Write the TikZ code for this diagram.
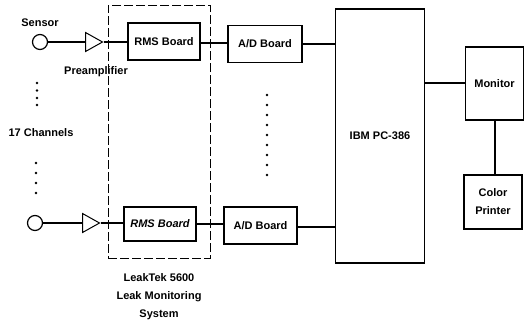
\documentclass[tikz,border=0pt]{standalone}
\usepackage{fontspec}
\setmainfont{Liberation Sans}
\usetikzlibrary{positioning,shapes.geometric}

\begin{document}
\begin{tikzpicture}[x=1pt, y=-1pt,
  font=\fontsize{11}{18}\selectfont\bfseries,
  board/.style={draw, line width=1.3pt, minimum width=72pt, minimum height=37pt, inner sep=0pt},
  sensor/.style={draw, circle, line width=1.2pt, minimum size=15pt, inner sep=0pt},
  amp/.style={draw, isosceles triangle, isosceles triangle stretches, line width=1pt, minimum width=19pt, minimum height=17pt, inner sep=0pt, anchor=west},
  wire/.style={line width=1.3pt},
  dotmark/.style={circle, fill, inner sep=0pt, minimum size=2.6pt}
]
\useasboundingbox (0,0) rectangle (524,327);

% enclosure of the LeakTek boards
\node[draw, dash pattern=on 9pt off 3pt, line width=0.9pt, minimum width=102pt, minimum height=253pt, inner sep=0pt] (leak) at (159,131.5) {};
\node[align=center, below=12pt of leak] (leaklbl) {LeakTek 5600\\Leak Monitoring\\System};

% first channel
\node[sensor] (s1) at (40,42) {};
\node[amp] (a1) at (85,42) {};
\node[board] (rms1) at (164,41.5) {RMS Board};
\node[board, minimum width=74pt] (ad1) at (265,44) {A/D Board};
\node[above=4pt of s1] (senslbl) {Sensor};
\node (prelbl) at (96,72) {Preamplifier};

% last channel
\node[sensor] (s2) at (35,223) {};
\node[amp] (a2) at (82,223) {};
\node[board, minimum height=34pt] (rms2) at (160,224) {\itshape RMS Board};
\node[board, minimum width=73pt] (ad2) at (260.5,225.5) {A/D Board};

\node (chlbl) at (41,133) {17 Channels};
\foreach \y [count=\i] in {83,90.5,98,105} \node[dotmark] (dl\i) at (37,\y) {};
\foreach \y [count=\i] in {163,173,183,193} \node[dotmark] (dm\i) at (36,\y) {};
\foreach \y [count=\i] in {95,105,...,175} \node[dotmark] (dr\i) at (267,\y) {};

% computer and peripherals
\node[board, minimum width=89pt, minimum height=254pt] (pc) at (380,136) {IBM PC-386};
\node[board, minimum width=58pt, minimum height=73pt] (mon) at (494.5,83.5) {Monitor};
\node[board, minimum width=58pt, minimum height=54pt, align=center] (prn) at (493,202) {Color\\Printer};

\draw[wire] (s1)--(a1); \draw[wire] (a1.apex)--(a1.apex -| rms1.west);
\draw[wire] (rms1.east |- 0,43)--(ad1.west |- 0,43); \draw[wire] (ad1.east)--(ad1.east -| pc.west);
\draw[wire] (s2)--(a2); \draw[wire] (a2.apex)--(a2.apex -| rms2.west);
\draw[wire] (rms2.east)--(rms2.east -| ad2.west); \draw[wire] (ad2.east |- 0,227)--(pc.west |- 0,227);
\draw[wire] (pc.east |- 0,83)--(mon.west |- 0,83);
\draw[wire] (mon.south -| 495,0)--(prn.north -| 495,0);
\end{tikzpicture}
\end{document}
